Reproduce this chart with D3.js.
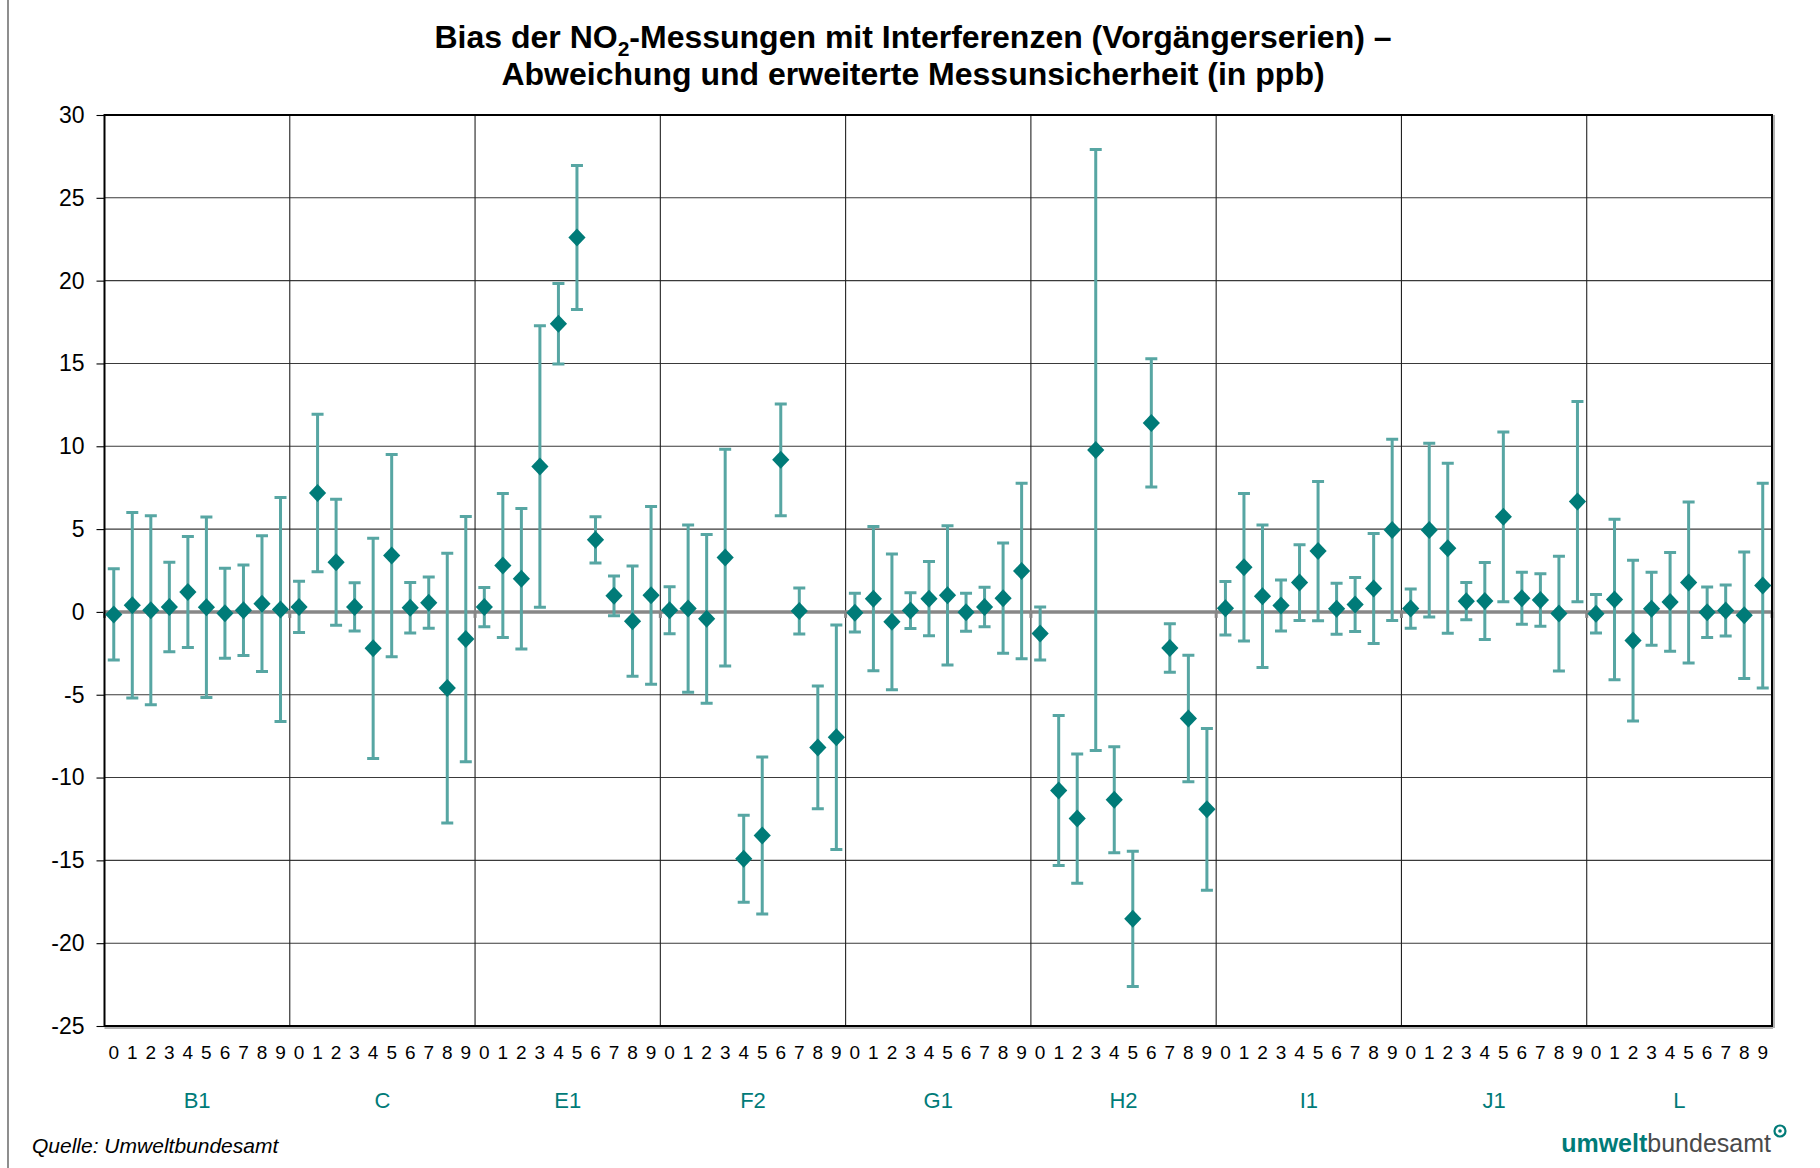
<!DOCTYPE html>
<html><head><meta charset="utf-8">
<script src="https://cdn.jsdelivr.net/npm/d3@7"></script>
<style>html,body{margin:0;padding:0;background:#fff;}svg{display:block;font-family:"Liberation Sans",Arial,sans-serif;}</style>
</head><body>
<svg id="chart" width="1820" height="1168"></svg>
<script>
// ---------- data ----------
const groups = ["B1","C","E1","F2","G1","H2","I1","J1","L"];
const subLabels = ["0","1","2","3","4","5","6","7","8","9"];
const yTicks = [30,25,20,15,10,5,0,-5,-10,-15,-20,-25];

const biasB1 = [-0.15, 0.4, 0.1, 0.3, 1.2, 0.28, -0.08, 0.1, 0.5, 0.14];
const uncB1  = [2.75, 5.6, 5.7, 2.7, 3.35, 5.45, 2.72, 2.73, 4.1, 6.76];
const biasC  = [0.3, 7.18, 3.0, 0.3, -2.2, 3.4, 0.25, 0.56, -4.6, -1.64];
const uncC   = [1.55, 4.75, 3.8, 1.46, 6.65, 6.1, 1.52, 1.55, 8.14, 7.4];
const biasE1 = [0.29, 2.8, 2.0, 8.78, 17.4, 22.6, 4.35, 0.97, -0.56, 1.0];
const uncE1  = [1.18, 4.35, 4.24, 8.5, 2.43, 4.35, 1.39, 1.2, 3.33, 5.37];
const biasF2 = [0.1, 0.2, -0.42, 3.28, -14.9, -13.5, 9.18, 0.06, -8.18, -7.57];
const uncF2  = [1.42, 5.05, 5.1, 6.54, 2.63, 4.74, 3.37, 1.39, 3.7, 6.78];
const biasG1 = [-0.05, 0.8, -0.6, 0.08, 0.8, 1.0, -0.02, 0.3, 0.83, 2.47];
const uncG1  = [1.17, 4.35, 4.1, 1.08, 2.24, 4.2, 1.15, 1.19, 3.33, 5.3];
const biasH2 = [-1.3, -10.78, -12.48, 9.77, -11.34, -18.53, 11.41, -2.18, -6.43, -11.92];
const uncH2  = [1.6, 4.53, 3.9, 18.14, 3.2, 4.08, 3.87, 1.46, 3.82, 4.88];
const biasI1 = [0.22, 2.7, 0.95, 0.39, 1.77, 3.67, 0.19, 0.44, 1.41, 4.95];
const uncI1  = [1.61, 4.45, 4.3, 1.54, 2.29, 4.21, 1.54, 1.63, 3.32, 5.47];
const biasJ1 = [0.2, 4.94, 3.84, 0.65, 0.66, 5.74, 0.82, 0.72, -0.1, 6.66];
const uncJ1  = [1.19, 5.24, 5.13, 1.13, 2.33, 5.12, 1.57, 1.59, 3.46, 6.04];
const biasL  = [-0.11, 0.75, -1.73, 0.19, 0.6, 1.78, -0.02, 0.09, -0.2, 1.59];
const uncL   = [1.16, 4.84, 4.85, 2.2, 2.98, 4.86, 1.53, 1.54, 3.82, 6.18];

const biasByGroup = [biasB1, biasC, biasE1, biasF2, biasG1, biasH2, biasI1, biasJ1, biasL];
const uncByGroup  = [uncB1, uncC, uncE1, uncF2, uncG1, uncH2, uncI1, uncJ1, uncL];

const rows = [];
groups.forEach((g, gi) => {
  subLabels.forEach((s, si) => {
    rows.push({key: g + "_" + s, group: g, sub: s, v: biasByGroup[gi][si], u: uncByGroup[gi][si]});
  });
});

// ---------- layout ----------
const svg = d3.select("#chart");
const X0 = 104.5, X1 = 1772, Y0 = 115, Y1 = 1026;
const TEAL = "#007b78", BAR = "#57a6a3";

const x = d3.scaleBand().domain(rows.map(d => d.key)).range([X0, X1]).padding(0);
const xg = d3.scaleBand().domain(groups).range([X0, X1]).padding(0);
const y = d3.scaleLinear().domain([-25, 30]).range([Y1, Y0]);

// left frame line
svg.append("line").attr("x1", 8).attr("x2", 8).attr("y1", 0).attr("y2", 1168)
  .attr("stroke", "#444").attr("stroke-width", 1.2);

// title
const title = svg.append("text").attr("text-anchor", "middle").attr("font-weight", "bold")
  .attr("font-size", 32).attr("fill", "#000");
const t1 = title.append("tspan").attr("x", 913).attr("y", 48);
t1.append("tspan").text("Bias der NO");
t1.append("tspan").text("2").attr("font-size", 21).attr("dy", 8);
t1.append("tspan").text("-Messungen mit Interferenzen (Vorgängerserien) –").attr("dy", -8);
title.append("tspan").attr("x", 913).attr("y", 85).text("Abweichung und erweiterte Messunsicherheit (in ppb)");

// horizontal gridlines
svg.append("g").selectAll("line").data(yTicks.filter(t => t !== 0)).join("line")
  .attr("x1", X0).attr("x2", X1).attr("y1", d => y(d)).attr("y2", d => y(d))
  .attr("stroke", "#3a3a3a").attr("stroke-width", 1.1);

// vertical group separators
svg.append("g").selectAll("line").data(groups.slice(1)).join("line")
  .attr("x1", d => xg(d)).attr("x2", d => xg(d)).attr("y1", Y0).attr("y2", Y1)
  .attr("stroke", "#222").attr("stroke-width", 1.1);

// y axis
const yAxis = d3.axisLeft(y).tickValues(yTicks).tickSize(8).tickPadding(12).tickFormat(d => String(d));
const ya = svg.append("g").attr("transform", `translate(${X0},0)`).call(yAxis);
ya.select(".domain").remove();
ya.selectAll(".tick line").attr("stroke", "#000").attr("stroke-width", 1.1);
ya.selectAll(".tick text").attr("font-size", 23).attr("fill", "#000")
  .attr("font-family", "'Liberation Sans',Arial,sans-serif");

// zero line (category axis)
svg.append("line").attr("x1", X0).attr("x2", X1).attr("y1", y(0)).attr("y2", y(0))
  .attr("stroke", "#878787").attr("stroke-width", 3.5);
svg.append("g").selectAll("line").data(groups.concat(["end"])).join("line")
  .attr("x1", (d, i) => i < groups.length ? xg(d) : X1)
  .attr("x2", (d, i) => i < groups.length ? xg(d) : X1)
  .attr("y1", y(0)).attr("y2", y(0) + 6)
  .attr("stroke", "#878787").attr("stroke-width", 3);

// plot border
svg.append("rect").attr("x", X0).attr("y", Y0).attr("width", X1 - X0).attr("height", Y1 - Y0)
  .attr("fill", "none").attr("stroke", "#000").attr("stroke-width", 2);
svg.append("line").attr("x1", X0).attr("x2", X1 + 1).attr("y1", Y1 + 2).attr("y2", Y1 + 2)
  .attr("stroke", "#999").attr("stroke-width", 1.5);
svg.append("line").attr("x1", X1 + 2).attr("x2", X1 + 2).attr("y1", Y0).attr("y2", Y1 + 2)
  .attr("stroke", "#999").attr("stroke-width", 1.5);

// error bars
const cx = d => x(d.key) + x.bandwidth() / 2;
const eb = svg.append("g").attr("stroke", BAR).attr("stroke-width", 3).attr("fill", "none");
eb.selectAll("path").data(rows).join("path")
  .attr("d", d => {
    const c = cx(d), t = y(d.v + d.u), b = y(d.v - d.u), w = 6;
    return `M${c},${t}V${b}M${c - w},${t}H${c + w}M${c - w},${b}H${c + w}`;
  });

// diamonds
svg.append("g").selectAll("path").data(rows).join("path")
  .attr("transform", d => `translate(${cx(d)},${y(d.v)})`)
  .attr("d", "M0,-9L8.6,0L0,9L-8.6,0Z")
  .attr("fill", TEAL);

// sub-category labels
svg.append("g").selectAll("text").data(rows).join("text")
  .attr("x", d => cx(d)).attr("y", 1059).attr("text-anchor", "middle")
  .attr("font-size", 19).attr("fill", "#000").text(d => d.sub);

// group labels
svg.append("g").selectAll("text").data(groups).join("text")
  .attr("x", d => xg(d) + xg.bandwidth() / 2).attr("y", 1108).attr("text-anchor", "middle")
  .attr("font-size", 22).attr("fill", TEAL).text(d => d);

// source
svg.append("text").attr("x", 32).attr("y", 1153).attr("font-size", 21).attr("font-style", "italic")
  .attr("fill", "#000").text("Quelle: Umweltbundesamt");

// logo
const logo = svg.append("text").attr("x", 1771).attr("y", 1152).attr("text-anchor", "end").attr("font-size", 25);
logo.append("tspan").attr("font-weight", "bold").attr("fill", TEAL).text("umwelt");
logo.append("tspan").attr("fill", "#4a4a4a").text("bundesamt");
svg.append("circle").attr("cx", 1780).attr("cy", 1131).attr("r", 5.5).attr("fill", "none")
  .attr("stroke", TEAL).attr("stroke-width", 2.2);
svg.append("circle").attr("cx", 1780).attr("cy", 1131).attr("r", 1.8).attr("fill", TEAL);
</script>
</body></html>
